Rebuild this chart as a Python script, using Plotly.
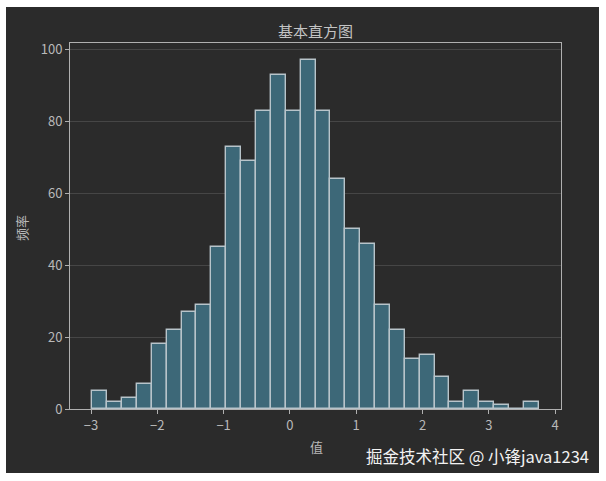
import plotly.graph_objects as go

# ---- data ----
bin_start = -2.98
bin_width = 0.2244
counts = [5, 2, 3, 7, 18, 22, 27, 29, 45, 73, 69, 83, 93, 83, 97, 83, 64, 50, 46,
          29, 22, 14, 15, 9, 2, 5, 2, 1, 0, 2]
x_ticks = [-3, -2, -1, 0, 1, 2, 3, 4]
y_ticks = [0, 20, 40, 60, 80, 100]
title_text = "基本直方图"
x_label = "值"
y_label = "频率"
watermark = "掘金技术社区 @ 小锋java1234"

centers = [bin_start + (i + 0.5) * bin_width for i in range(len(counts))]

W, H = 606, 481
ml, mr, mt, mb = 70, 45, 43, 72
pw, ph = W - ml - mr, H - mt - mb

def px_x(p):
    return (p - ml) / pw

def px_y(p):
    return (H - mb - p) / ph

BG = "#2b2b2b"
TXT = "#b9b9b9"
FONT = "Noto Sans CJK SC"

fig = go.Figure()
fig.add_trace(go.Bar(
    x=centers, y=counts, width=bin_width,
    marker=dict(color="#3d6878", line=dict(color="#b8c4ca", width=1.4)),
    hoverinfo="x+y",
))

fig.update_layout(
    width=W, height=H,
    margin=dict(l=ml, r=mr, t=mt, b=mb),
    paper_bgcolor="white",
    plot_bgcolor=BG,
    showlegend=False,
    bargap=0,
    font=dict(family=FONT, color=TXT, size=12),
    shapes=[dict(type="rect", xref="paper", yref="paper",
                 x0=px_x(6), x1=px_x(599), y0=px_y(473), y1=px_y(7),
                 fillcolor=BG, line=dict(width=0), layer="below")],
    annotations=[
        dict(text=title_text, xref="paper", yref="paper", x=0.5, y=px_y(31),
             xanchor="center", yanchor="middle", showarrow=False,
             font=dict(size=15, color="#c4c4c4", family=FONT)),
        dict(text=x_label, xref="paper", yref="paper", x=px_x(316), y=px_y(447),
             xanchor="center", yanchor="middle", showarrow=False,
             font=dict(size=13, color=TXT, family=FONT)),
        dict(text=y_label, xref="paper", yref="paper", x=px_x(21), y=px_y(228),
             xanchor="center", yanchor="middle", showarrow=False, textangle=-90,
             font=dict(size=13, color=TXT, family=FONT)),
        dict(text=watermark, xref="paper", yref="paper", x=px_x(591), y=px_y(456),
             xanchor="right", yanchor="middle", showarrow=False,
             font=dict(size=16.5, color="#f2f2f2", family=FONT)),
    ],
)

fig.update_xaxes(
    range=[-3.317, 4.089], tickvals=x_ticks, ticks="outside", ticklen=4,
    tickcolor="#b0b0b0", showline=True, linecolor="#b0b0b0", linewidth=1,
    mirror=True, showgrid=False, zeroline=False,
    tickfont=dict(size=13, color=TXT),
)
fig.update_yaxes(
    range=[0, 101.85], tickvals=y_ticks, ticks="outside", ticklen=4,
    tickcolor="#b0b0b0", showline=True, linecolor="#b0b0b0", linewidth=1,
    mirror=True, showgrid=True, gridcolor="#464646", gridwidth=1, zeroline=False,
    tickfont=dict(size=13, color=TXT),
)

fig.write_html(
    "out.html",
    config={"displayModeBar": False},
    post_script="document.body.style.margin='0';document.body.style.overflow='hidden';",
)
